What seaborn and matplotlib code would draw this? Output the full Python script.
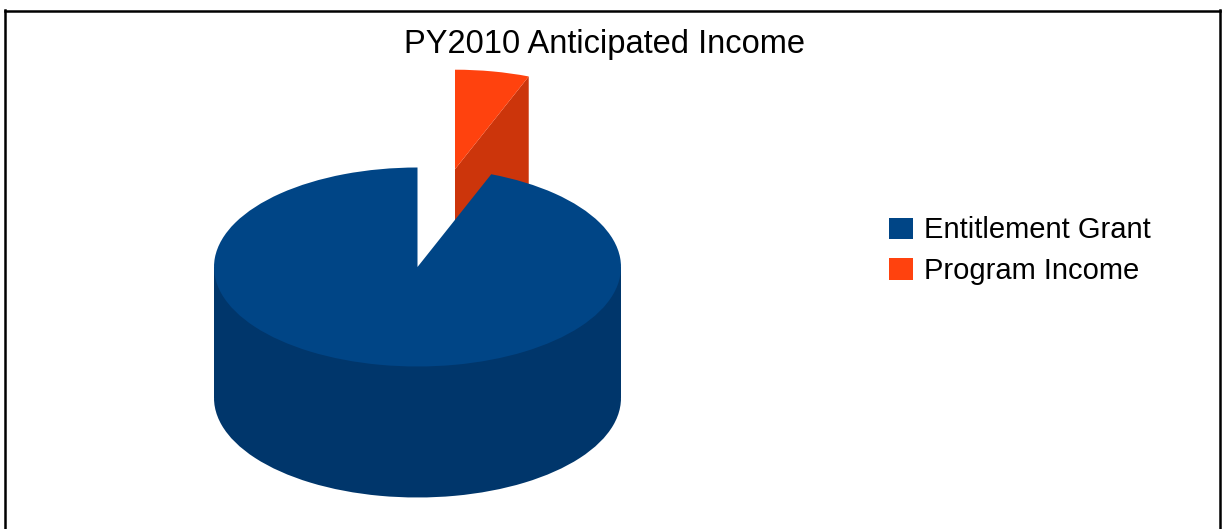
import numpy as np
import matplotlib
matplotlib.use("Agg")
import matplotlib.pyplot as plt
import seaborn as sns

# Share of anticipated income, in percent
categories = ["Entitlement Grant", "Program Income"]
shares = [94.1, 5.9]
top_colors = ["#004586", "#ff420e"]
side_colors = ["#00366b", "#cc350b"]

sns.set_theme(style="white")
plt.rcParams["font.family"] = ["Liberation Sans", "DejaVu Sans"]

W, H = 1225, 529
fig = plt.figure(figsize=(W / 100, H / 100), dpi=100, facecolor="white")

# Outer frame in pixels: left, top, right; the bottom edge runs off the figure
fl, ft, fr, fb = 5, 10.5, 1220, 529
ax = fig.add_axes([fl / W, 1 - fb / H, (fr - fl) / W, (fb - ft) / H])

# Pie centre and radii in pixels, and the extrusion depth in pie radii
cx, cy, rx, ry = 417.5, 267, 203.5, 99.5
depth = 131 / ry
explode = [0, 1.0]
# The small slice ends at twelve o'clock when walking clockwise from the large one
start = 90 - 360 * shares[1] / sum(shares)

# Cylinder wall of the large slice, below its top face
ax.pie(shares, explode=explode, startangle=start, counterclock=False, center=(0, -depth),
       colors=[side_colors[0], "none"], wedgeprops={"linewidth": 0, "zorder": 2}, frame=True)
ax.fill_between([-1, 1], -depth, 0, color=side_colors[0], linewidth=0, zorder=2)

# Top faces of both slices
wedges, _ = ax.pie(shares, explode=explode, startangle=start, counterclock=False,
                   colors=top_colors, labels=None,
                   wedgeprops={"linewidth": 0, "zorder": 3}, frame=True)

# Cut face of the pulled-out slice, hanging from its leading radial edge
red = wedges[1]
ox, oy = red.center
edge = np.radians(min(red.theta1, red.theta2))
ex, ey = ox + np.cos(edge), oy + np.sin(edge)
ax.fill([ox, ex, ex, ox], [oy, ey, ey - depth, oy - depth],
        color=side_colors[1], linewidth=0, zorder=2.5)

ax.set_aspect("auto")
ax.set_xlim((fl - cx) / rx, (fr - cx) / rx)
ax.set_ylim((cy - fb) / ry, (cy - ft) / ry)
ax.set_xticks([])
ax.set_yticks([])
for name, spine in ax.spines.items():
    spine.set_visible(name != "bottom")
    spine.set_color("black")
    spine.set_linewidth(1.8)

fig.text(604.5 / W, 1 - 53 / H, "PY2010 Anticipated Income", ha="center", va="baseline",
         fontsize=23.5, color="black")

ax.legend(wedges, categories, loc="upper left", frameon=False, fontsize=21,
          bbox_to_anchor=(889 / W, 1 - 216.5 / H), bbox_transform=fig.transFigure,
          borderaxespad=0, borderpad=0, handlelength=0.82, handleheight=0.76,
          handletextpad=0.37, labelspacing=0.44, labelcolor="black")

fig.savefig("out.png", dpi=100)
